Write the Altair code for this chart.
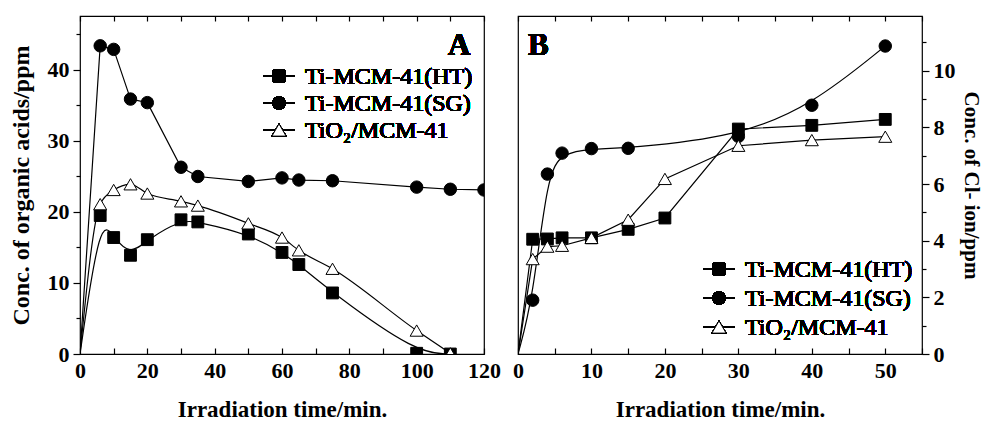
import altair as alt
import pandas as pd

# ---------------- Panel A data (organic acids, ppm) ----------------
a_t_ht = [0, 6, 10, 15, 20, 30, 35, 50, 60, 65, 75, 100, 110]
a_v_ht = [0, 19.5, 16.4, 13.9, 16.1, 18.9, 18.6, 16.9, 14.3, 12.6, 8.6, 0.1, 0.0]
a_t_sg = [0, 6, 10, 15, 20, 30, 35, 50, 60, 65, 75, 100, 110, 120]
a_v_sg = [0, 43.4, 42.9, 35.9, 35.4, 26.3, 25.0, 24.3, 24.8, 24.5, 24.4, 23.5, 23.2, 23.1]
a_t_ti = [0, 6, 10, 15, 20, 30, 35, 50, 60, 65, 75, 100, 110]
a_v_ti = [0, 21.1, 23.1, 23.9, 22.6, 21.5, 20.9, 18.4, 16.4, 14.6, 12.0, 3.3, 0.1]

# ---------------- Panel B data (Cl- ion, ppm) ----------------
b_t_ht = [0, 2, 4, 6, 10, 15, 20, 30, 40, 50]
b_v_ht = [0, 4.05, 4.06, 4.1, 4.1, 4.4, 4.8, 7.94, 8.07, 8.28]
b_t_sg = [0, 2, 4, 6, 10, 15, 30, 40, 50]
b_v_sg = [0, 1.9, 6.35, 7.09, 7.25, 7.26, 7.68, 8.78, 10.87]
b_t_ti = [0, 2, 4, 6, 10, 15, 20, 30, 40, 50]
b_v_ti = [0, 3.35, 3.79, 3.82, 4.1, 4.74, 6.18, 7.35, 7.55, 7.67]

series_names = ["Ti-MCM-41(HT)", "Ti-MCM-41(SG)", "TiO\u2082/MCM-41"]
series_shapes = ["square", "circle", "triangle-up"]
series_fills = ["black", "black", "white"]
series_sizes = [140, 170, 200]

FONT = "Liberation Serif"
W, H = 404, 338


def make_df(ts, vs):
    rows = []
    for name, t, v in zip(series_names, ts, vs):
        for ti, vi in zip(t, v):
            rows.append({"t": ti, "v": vi, "s": name})
    return pd.DataFrame(rows)


dfA = make_df([a_t_ht, a_t_sg, a_t_ti], [a_v_ht, a_v_sg, a_v_ti])
dfB = make_df([b_t_ht, b_t_sg, b_t_ti], [b_v_ht, b_v_sg, b_v_ti])


def xaxis_bottom(vals, every, title):
    return alt.Axis(orient="bottom", values=vals, labelExpr=f"datum.value % {every} == 0 ? datum.label : ''",
                    tickSize=6, offset=-6, domain=False, labelFlush=False, labelOverlap=False,
                    labelPadding=6, title=title, titlePadding=17, grid=False)


def xaxis_top(vals):
    return alt.Axis(orient="top", values=vals, labels=False, tickSize=5, offset=-5,
                    domain=False, title=None, grid=False)


def panel(df, interps, xdom, ydom, xvals, xlab_every, yorient, ymajor, yminor, ytitle,
          leg_x, leg_y0, leg_dy, label, label_x):
    xs = alt.Scale(domain=xdom, nice=False, zero=False)
    ys = alt.Scale(domain=ydom, nice=False, zero=False)
    base = alt.Chart(df)
    layers = []
    for i, name in enumerate(series_names):
        if i == 0:
            xa = xaxis_bottom(xvals, xlab_every, "Irradiation time/min.")
            ya = alt.Axis(orient=yorient, values=ymajor, tickSize=7, labelPadding=4,
                          domain=False, title=ytitle, grid=False, labelOverlap=False,
                          titlePadding=14 if yorient == "left" else 5,
                          titleFontSize=24 if yorient == "left" else 21)
        elif i == 1:
            xa = xaxis_top(xvals)
            ya = alt.Axis(orient=yorient, values=yminor, tickSize=4, labels=False,
                          domain=False, title=None, grid=False)
        else:
            xa = None
            ya = None
        kw = {}
        if interps[i] != "linear":
            kw["interpolate"] = interps[i]
        layers.append(
            base.transform_filter(alt.datum.s == name)
            .mark_line(color="black", strokeWidth=1.2, clip=True, **kw)
            .encode(x=alt.X("t:Q", scale=xs, axis=xa), y=alt.Y("v:Q", scale=ys, axis=ya))
        )
    pts = (
        base.transform_filter(alt.datum.t > 0)
        .mark_point(filled=True, stroke="black", strokeWidth=1, opacity=1, clip=True)
        .encode(
            x=alt.X("t:Q", scale=xs, axis=None),
            y=alt.Y("v:Q", scale=ys, axis=None),
            shape=alt.Shape("s:N", scale=alt.Scale(domain=series_names, range=series_shapes), legend=None),
            fill=alt.Fill("s:N", scale=alt.Scale(domain=series_names, range=series_fills), legend=None),
            size=alt.Size("s:N", scale=alt.Scale(domain=series_names, range=series_sizes), legend=None),
        )
    )
    layers.append(pts)
    # hand-made legend
    for i, name in enumerate(series_names):
        yy = leg_y0 + i * leg_dy
        layers.append(alt.Chart(df).mark_rule(color="black", strokeWidth=1.2).encode(
            x=alt.value(leg_x), x2=alt.value(leg_x + 32), y=alt.value(yy)))
        layers.append(alt.Chart(df).mark_point(filled=True, stroke="black", strokeWidth=1, opacity=1,
                                              shape=series_shapes[i], fill=series_fills[i],
                                              size=series_sizes[i]).encode(
            x=alt.value(leg_x + 16), y=alt.value(yy)))
        layers.append(alt.Chart(df).mark_text(text=name, align="left", baseline="middle", font=FONT,
                                             fontSize=24, fontWeight="normal", color="black").encode(
            x=alt.value(leg_x + 42), y=alt.value(yy + 1)))
    layers.append(alt.Chart(df).mark_text(text=label, align="left", baseline="alphabetic", font=FONT,
                                         fontSize=31, fontWeight="bold", color="black").encode(
        x=alt.value(label_x), y=alt.value(39)))
    return alt.layer(*layers).resolve_axis(x="independent", y="independent").properties(width=W, height=H)


chartA = panel(dfA, ["basis", "linear", "monotone"], [0, 120], [0, 47.6],
               list(range(0, 121, 10)), 20, "left", [0, 10, 20, 30, 40], [5, 15, 25, 35, 45],
               "Conc. of organic acids/ppm", 183, 60, 27, "A", 368)
chartB = panel(dfB, ["linear", "basis", "linear"], [0, 55], [0, 11.93],
               list(range(0, 56, 5)), 10, "right", [0, 2, 4, 6, 8, 10], [1, 3, 5, 7, 9, 11],
               "Conc. of Cl- ion/ppm", 185, 253, 29, "B", 10)

chart = (
    alt.hconcat(chartA, chartB, spacing=34, bounds="flush")
    .properties(padding={"left": 0, "top": 6, "right": 0, "bottom": 0})
    .configure_view(stroke="black", strokeWidth=1.2)
    .configure_axis(labelFont=FONT, labelFontSize=22, labelFontWeight="bold", labelColor="black",
                    titleFont=FONT, titleFontSize=23, titleFontWeight="bold", titleColor="black",
                    tickColor="black", tickWidth=1.2)
)

chart.save("out.html", embed_options={"renderer": "svg", "actions": False})
